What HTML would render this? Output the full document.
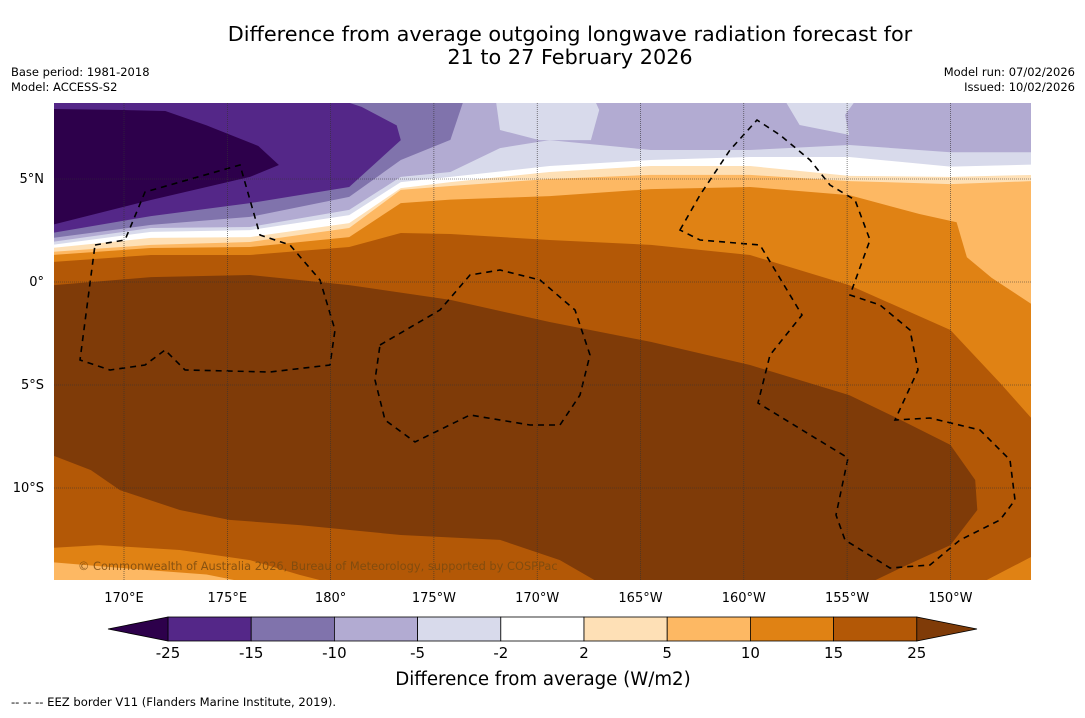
<!DOCTYPE html>
<html><head><meta charset="utf-8"><style>
body{margin:0;background:#fff;width:1085px;height:713px;overflow:hidden;font-family:"Liberation Sans","DejaVu Sans",sans-serif;}
svg text{font-family:"DejaVu Sans","Liberation Sans",sans-serif;}
</style></head><body>
<svg id="chart" width="1085" height="713" xmlns="http://www.w3.org/2000/svg">
<defs><clipPath id="pc"><rect x="54" y="103" width="977" height="477"/></clipPath></defs>
<text x="570" y="41" text-anchor="middle" font-size="20.8">Difference from average outgoing longwave radiation forecast for</text>
<text x="570" y="64" text-anchor="middle" font-size="20.8">21 to 27 February 2026</text>
<text x="11" y="76" font-size="11.5">Base period: 1981-2018</text>
<text x="11" y="91" font-size="11.5">Model: ACCESS-S2</text>
<text x="1075" y="76" font-size="11.5" text-anchor="end">Model run: 07/02/2026</text>
<text x="1075" y="91" font-size="11.5" text-anchor="end">Issued: 10/02/2026</text>
<g id="map" clip-path="url(#pc)"></g>
<g id="eez" clip-path="url(#pc)" fill="none" stroke="#000" stroke-width="1.6" stroke-dasharray="6,5">
<path d="M95,245 L125,240 L145,192 L240,165 L260,235 L290,245 L320,280 L335,330 L330,365 L270,372 L185,370 L165,350 L145,365 L110,370 L80,360 Z"/>
<path d="M380,345 L440,310 L470,275 L500,270 L540,280 L575,310 L590,355 L580,395 L560,425 L530,425 L470,415 L415,442 L385,420 L375,380 Z"/>
<path d="M680,230 L700,195 L730,150 L757,120 L780,135 L810,160 L830,185 L855,200 L870,240 L850,295 L880,305 L910,330 L918,370 L895,420 L930,418 L980,430 L1010,460 L1015,500 L1000,520 L960,540 L930,565 L890,568 L845,540 L836,515 L848,458 L758,403 L770,355 L802,315 L760,245 L700,240 Z"/>
</g>
<g id="grid"></g>
<text x="78" y="570" font-size="11.4" fill="#7a4a10" opacity="0.85">© Commonwealth of Australia 2026, Bureau of Meteorology, supported by COSPPac</text>
<g id="axes"></g>
<g id="cbar"></g>
<text x="543" y="685" text-anchor="middle" font-size="18.2">Difference from average (W/m2)</text>
<text x="11" y="706" font-size="11.6">--  --  -- EEZ border V11 (Flanders Marine Institute, 2019).</text>
</svg>
<script>
const levels=[-25,-15,-10,-5,-2,2,5,10,15,25];
const levelColors=['#2d004b','#542788','#8073ac','#b2abd2','#d8daeb','#ffffff','#fee0b6','#fdb863','#e08214','#b35806','#7f3b08'];
const lonTicks=[170,175,180,185,190,195,200,205,210];
const lonLabels=['170°E','175°E','180°','175°W','170°W','165°W','160°W','155°W','150°W'];
const latTicks=[5,0,-5,-10];
const latLabels=['5°N','0°','5°S','10°S'];
const brownCore=[[166.6,-0.15],[171.3,0.24],[176.1,0.34],[180.9,-0.15],[185.8,-0.87],[190.6,-1.94],[195.5,-2.91],[200.3,-4.03],[205.1,-5.49],[207.6,-6.7],[210,-7.91],[211.2,-9.61],[211.3,-11.07],[210,-12.77],[207.6,-13.88],[206.1,-14.6],[193,-14.6],[191.1,-13.5],[188.2,-12.52],[183.4,-12.28],[178.5,-11.8],[175.1,-11.55],[172.7,-11.07],[169.8,-10.1],[168.4,-9.13],[166.5,-8.4]];
const southOrange=[[166.5,-12.91],[168.8,-12.77],[172.7,-13.01],[176.1,-13.5],[178.5,-14.22],[180,-14.6],[166.5,-14.6]];
const southOrangeE=[[211.5,-14.6],[214,-13.3],[214,-14.6]];
const southLight=[[166.5,-13.6],[170,-13.9],[174,-14.2],[176,-14.6],[166.5,-14.6]];
const northOrange=[[166.5,0.97],[171.3,1.31],[176.1,1.31],[180.9,1.7],[183.4,2.38],[185.8,2.33],[190.6,2.04],[195.5,1.8],[200.3,1.31],[205.1,-0.15],[210,-2.33],[212.4,-4.9],[214,-6.7]];
const northLight=[[166.5,1.31],[171.3,1.65],[176.1,1.7],[180.9,2.18],[183.4,3.83],[185.8,4.0],[190.6,4.17],[195.5,4.51],[200.3,4.61],[205.1,4.22],[208.5,3.3],[210.3,2.9],[210.8,1.2],[212,0.2],[214,-1.12]];
const northPale=[[166.5,1.46],[171.3,1.8],[176.1,1.94],[180.9,2.62],[183.4,4.47],[185.8,4.66],[190.6,5.0],[195.5,5.2],[200.3,5.2],[205.1,4.9],[210,4.75],[214,4.9]];
const northWhite=[[166.5,1.65],[171.3,2.14],[176.1,2.18],[180.9,2.86],[183.4,4.56],[185.8,4.85],[190.6,5.34],[195.5,5.63],[200.3,5.63],[205.1,5.15],[210,5.1],[214,5.2]];
const northLav=[[166.5,1.8],[171.3,2.43],[176.1,2.52],[180.9,3.25],[183.4,4.85],[185.8,5.1],[190.6,5.63],[195.5,5.92],[200.3,6.07],[205.1,6.07],[210,5.6],[214,5.7]];
const northLil=[[166.5,1.94],[171.3,2.62],[176.1,2.67],[180.9,3.5],[183.4,5.1],[185.8,5.34],[188.2,6.5],[190.6,6.89],[195.5,6.41],[200.3,6.41],[205.1,6.65],[210,6.3],[214,6.3]];
const lavPatch1=[[188,8.8],[188.2,7.38],[190.1,6.89],[192.6,6.89],[193,8.35],[192.8,8.8]];
const lavPatch2=[[202,8.8],[202.7,7.62],[205.1,7.14],[204.9,8.11],[205.4,8.8]];
const northMid=[[166.5,2.13],[171.3,2.77],[176.1,3.16],[180.9,4.13],[183.4,5.92],[185.8,6.9],[186.5,9]];
const northDeep=[[166.5,2.38],[171.3,3.2],[176.1,3.83],[180.9,4.61],[183.4,6.89],[183.2,7.6],[181.5,8.5],[180,9]];
const northDarkest=[[166.5,2.77],[171.3,3.98],[176.1,5.1],[177.5,5.68],[176.5,6.6],[174,7.6],[172,8.3],[170,8.35],[166.5,8.4]];

const X=lon=>124+(lon-170)*20.66;
const Y=lat=>282-lat*20.6;
const NS='http://www.w3.org/2000/svg';
const map=document.getElementById('map');
function poly(pts,color,name){
  const p=document.createElementNS(NS,'polygon');
  p.setAttribute('points',pts.map(d=>X(d[0]).toFixed(1)+','+Y(d[1]).toFixed(1)).join(' '));
  p.setAttribute('fill',color);
  
  
  map.appendChild(p);
}
function north(pts,color,name){
  const first=pts[0],last=pts[pts.length-1];
  poly(pts.concat([[last[0],9],[first[0],9]]),color,name);
}
const bg=document.createElementNS(NS,'rect');
bg.setAttribute('x',54);bg.setAttribute('y',103);bg.setAttribute('width',977);bg.setAttribute('height',477);
bg.setAttribute('fill',levelColors[9]);


map.appendChild(bg);
poly(brownCore,levelColors[10],'contour-25-plus');
poly(southOrange,levelColors[8],'contour-south-10-15');
poly(southOrangeE,levelColors[8],'contour-southeast-10-15');
poly(southLight,levelColors[7],'contour-south-5-10');
north(northOrange,levelColors[8],'contour-10-15');
north(northLight,levelColors[7],'contour-5-10');
north(northPale,levelColors[6],'contour-2-5');
north(northWhite,levelColors[5],'contour-neutral');
north(northLav,levelColors[4],'contour-minus2-minus5');
north(northLil,levelColors[3],'contour-minus5-minus10');
poly(lavPatch1,levelColors[4],'contour-patch-minus2');
poly(lavPatch2,levelColors[4],'contour-patch-minus2-east');
north(northMid,levelColors[2],'contour-minus10-minus15');
north(northDeep,levelColors[1],'contour-minus15-minus25');
north(northDarkest,levelColors[0],'contour-below-minus25');

const grid=document.getElementById('grid');
const axes=document.getElementById('axes');
lonTicks.forEach((lon,i)=>{
  const l=document.createElementNS(NS,'line');
  l.setAttribute('x1',X(lon));l.setAttribute('x2',X(lon));l.setAttribute('y1',103);l.setAttribute('y2',580);
  l.setAttribute('stroke','#333');l.setAttribute('stroke-width','0.6');l.setAttribute('stroke-dasharray','1,1');
  
  
  grid.appendChild(l);
  const t=document.createElementNS(NS,'text');
  t.setAttribute('x',X(lon));t.setAttribute('y',602);t.setAttribute('text-anchor','middle');t.setAttribute('font-size','13');
  t.textContent=lonLabels[i];
  
  
  axes.appendChild(t);
});
latTicks.forEach((lat,i)=>{
  const l=document.createElementNS(NS,'line');
  l.setAttribute('x1',54);l.setAttribute('x2',1031);l.setAttribute('y1',Y(lat));l.setAttribute('y2',Y(lat));
  l.setAttribute('stroke','#333');l.setAttribute('stroke-width','0.6');l.setAttribute('stroke-dasharray','1,1');
  
  
  grid.appendChild(l);
  const t=document.createElementNS(NS,'text');
  t.setAttribute('x',44);t.setAttribute('y',Y(lat)+4);t.setAttribute('text-anchor','end');t.setAttribute('font-size','13');
  t.textContent=latLabels[i];
  
  
  axes.appendChild(t);
});
const cb=document.getElementById('cbar');
const cbX=v=>168+levels.indexOf(v)*83.2;
const cy0=617,cy1=641;
for(let i=0;i<levels.length-1;i++){
  const r=document.createElementNS(NS,'rect');
  r.setAttribute('x',cbX(levels[i]));r.setAttribute('y',cy0);
  r.setAttribute('width',cbX(levels[i+1])-cbX(levels[i]));r.setAttribute('height',cy1-cy0);
  r.setAttribute('fill',levelColors[i+1]);r.setAttribute('stroke','#000');r.setAttribute('stroke-width','0.8');
  
  
  cb.appendChild(r);
}
const tl=document.createElementNS(NS,'polygon');
tl.setAttribute('points',`108,629 ${cbX(-25)},${cy0} ${cbX(-25)},${cy1}`);
tl.setAttribute('fill',levelColors[0]);tl.setAttribute('stroke','#000');tl.setAttribute('stroke-width','0.8');


cb.appendChild(tl);
const tr=document.createElementNS(NS,'polygon');
tr.setAttribute('points',`977,629 ${cbX(25)},${cy0} ${cbX(25)},${cy1}`);
tr.setAttribute('fill',levelColors[10]);tr.setAttribute('stroke','#000');tr.setAttribute('stroke-width','0.8');


cb.appendChild(tr);
levels.forEach(v=>{
  const t=document.createElementNS(NS,'text');
  t.setAttribute('x',cbX(v));t.setAttribute('y',658);t.setAttribute('text-anchor','middle');t.setAttribute('font-size','15');
  t.textContent=v;
  
  
  cb.appendChild(t);
});
</script>
</body></html>
